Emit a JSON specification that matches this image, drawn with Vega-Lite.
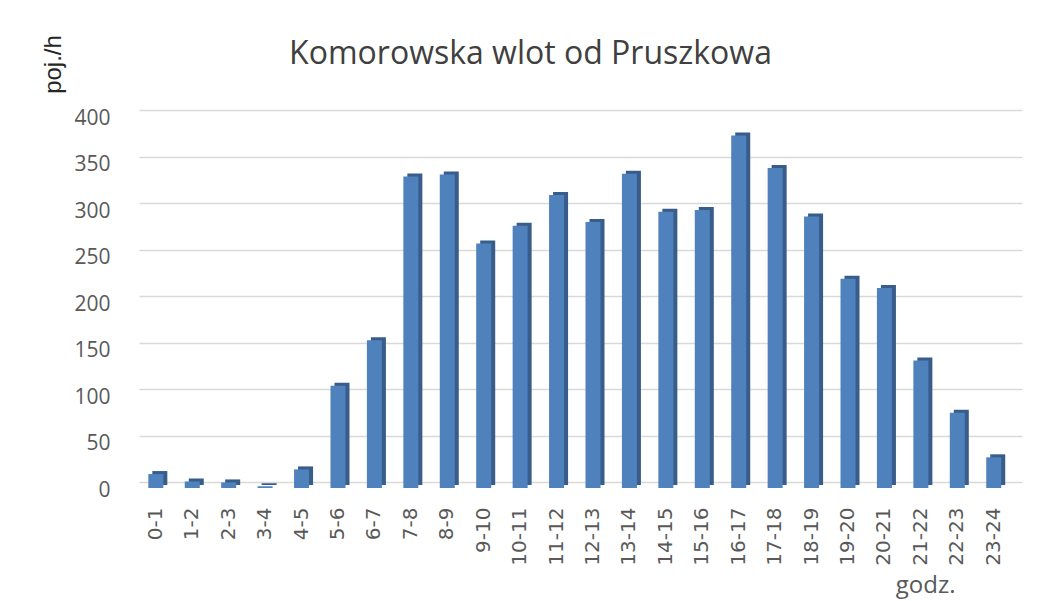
{
  "$schema": "https://vega.github.io/schema/vega-lite/v6.json",
  "width": 883,
  "height": 372,
  "autosize": {"type": "none"},
  "padding": {"left": 139, "top": 116, "right": 19, "bottom": 113},
  "background": "white",
  "title": {
    "text": "Komorowska wlot od Pruszkowa",
    "font": "Open Sans",
    "fontSize": 32,
    "fontWeight": "normal",
    "color": "#404040",
    "anchor": "middle",
    "frame": "group",
    "baseline": "alphabetic",
    "dx": -50,
    "dy": 61,
    "offset": 0
  },
  "data": {
    "values": [
      {"h": "0-1", "v": 15},
      {"h": "1-2", "v": 7},
      {"h": "2-3", "v": 6},
      {"h": "3-4", "v": 2},
      {"h": "4-5", "v": 20},
      {"h": "5-6", "v": 110},
      {"h": "6-7", "v": 159},
      {"h": "7-8", "v": 335},
      {"h": "8-9", "v": 337},
      {"h": "9-10", "v": 263},
      {"h": "10-11", "v": 282},
      {"h": "11-12", "v": 315},
      {"h": "12-13", "v": 286},
      {"h": "13-14", "v": 338},
      {"h": "14-15", "v": 297},
      {"h": "15-16", "v": 299},
      {"h": "16-17", "v": 379},
      {"h": "17-18", "v": 344},
      {"h": "18-19", "v": 292},
      {"h": "19-20", "v": 225},
      {"h": "20-21", "v": 215},
      {"h": "21-22", "v": 137},
      {"h": "22-23", "v": 81},
      {"h": "23-24", "v": 33}
    ]
  },
  "encoding": {
    "x": {
      "field": "h",
      "type": "nominal",
      "sort": null,
      "scale": {"paddingInner": 0.588, "paddingOuter": 0.413, "align": 0.31},
      "axis": {
        "title": "godz.",
        "titleFont": "Open Sans",
        "titleFontSize": 24,
        "titleFontWeight": "normal",
        "titleColor": "#595959",
        "titleX": 816,
        "titleY": 104,
        "titleAlign": "right",
        "titleBaseline": "alphabetic",
        "labelAngle": -90,
        "labelFont": "DejaVu Sans",
        "labelFontSize": 20,
        "labelColor": "#595959",
        "labelPadding": 19,
        "ticks": false,
        "domain": false,
        "grid": false
      }
    },
    "y": {
      "field": "v",
      "type": "quantitative",
      "scale": {"domain": [0, 400]},
      "axis": {
        "values": [0, 50, 100, 150, 200, 250, 300, 350, 400],
        "title": "poj./h",
        "titleFont": "Liberation Sans",
        "titleFontSize": 24,
        "titleFontWeight": "normal",
        "titleColor": "#262626",
        "titleX": -86,
        "titleY": -52,
        "titleAngle": -90,
        "titleAlign": "center",
        "titleBaseline": "middle",
        "labelFont": "Open Sans",
        "labelFontSize": 21,
        "labelColor": "#595959",
        "labelPadding": 29,
        "tickOffset": -6,
        "labelOffset": 8,
        "ticks": false,
        "domain": false,
        "grid": true,
        "gridColor": "#D9D9D9",
        "gridWidth": 1.5
      }
    }
  },
  "layer": [
    {"mark": {"type": "bar", "color": "#385D8A", "xOffset": 4, "yOffset": -3}},
    {"mark": {"type": "bar", "color": "#4F81BD"}}
  ],
  "config": {"view": {"stroke": null}}
}
